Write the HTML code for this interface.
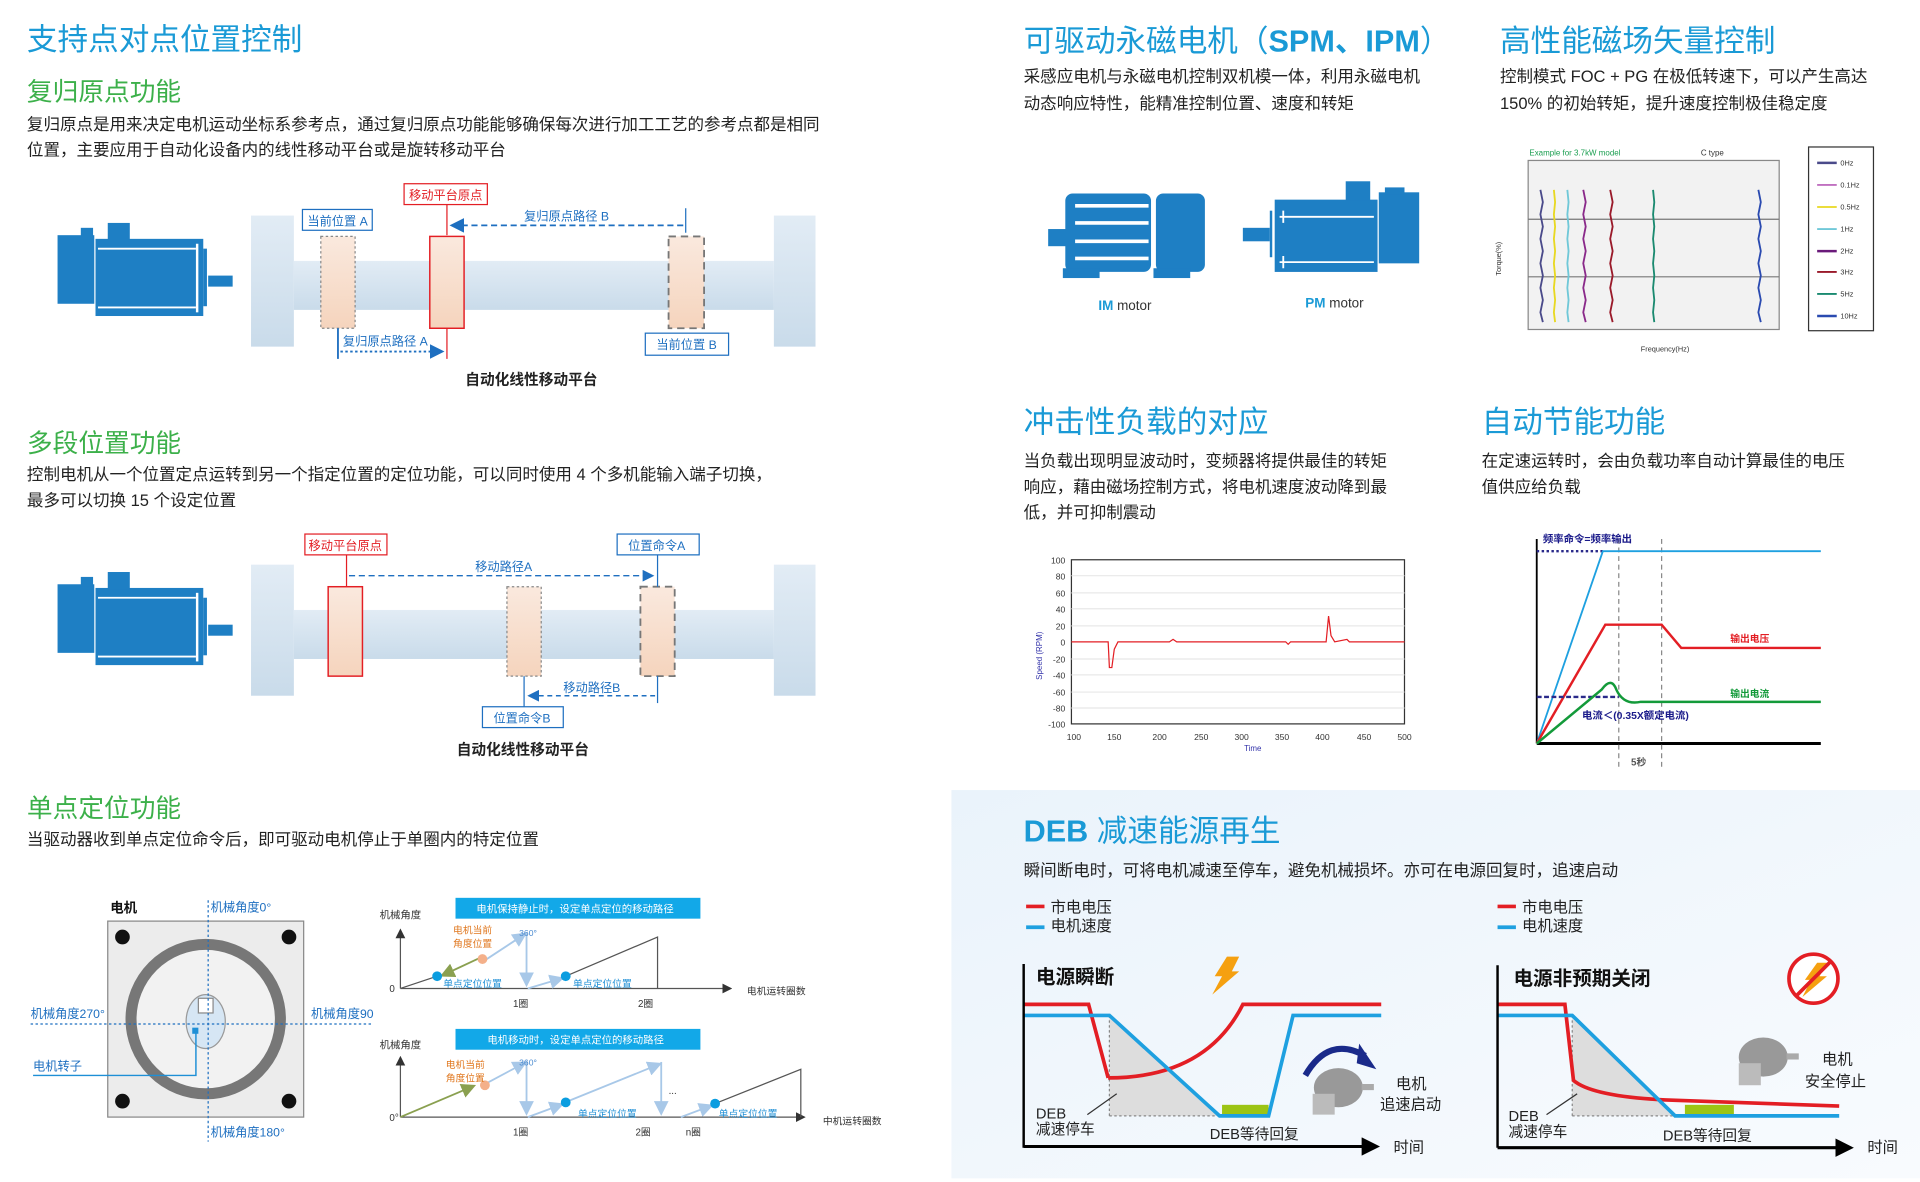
<!DOCTYPE html>
<html><head><meta charset="utf-8"><style>
html,body{margin:0;padding:0;background:#fff;width:1920px;height:1182px;overflow:hidden}
svg{display:block}
text{font-family:"Liberation Sans","Noto Sans CJK SC",sans-serif}
.t1{font-size:25px;fill:#1a9ad6}
.t2{font-size:21px;fill:#3cb04a}
.b{font-size:13.5px;fill:#222}
.s{font-size:10px}
.bl{fill:#1e6fc0}
</style></head><body>
<svg width="1920" height="1182" viewBox="0 0 1568 965" preserveAspectRatio="none" xmlns="http://www.w3.org/2000/svg">
<defs>
<linearGradient id="rail" x1="0" y1="0" x2="0" y2="1"><stop offset="0" stop-color="#e2ecf5"/><stop offset="1" stop-color="#c9dbea"/></linearGradient>
<linearGradient id="peach" x1="0" y1="0" x2="0" y2="1"><stop offset="0" stop-color="#fae9de"/><stop offset="1" stop-color="#f5d4bd"/></linearGradient>
<linearGradient id="deb" x1="0" y1="0" x2="1" y2="1"><stop offset="0" stop-color="#eaf3fb"/><stop offset="1" stop-color="#f8fbfe"/></linearGradient>
<marker id="ab" markerWidth="8" markerHeight="8" refX="6" refY="4" orient="auto"><path d="M0,0 L8,4 L0,8z" fill="#1e6fc0"/></marker>
<marker id="ak" markerWidth="8" markerHeight="8" refX="6" refY="4" orient="auto"><path d="M0,0 L8,4 L0,8z" fill="#333"/></marker>
<marker id="alb" markerWidth="8" markerHeight="8" refX="6" refY="4" orient="auto"><path d="M0,0 L8,4 L0,8z" fill="#a8c8e8"/></marker>
<marker id="ag" markerWidth="8" markerHeight="8" refX="6" refY="4" orient="auto"><path d="M0,0 L8,4 L0,8z" fill="#8aa050"/></marker>
<marker id="abk" markerWidth="6" markerHeight="6" refX="4" refY="3" orient="auto"><path d="M0,0 L6,3 L0,6z" fill="#000"/></marker>
<g id="motor">
<rect x="47" y="192" width="30" height="56" fill="#1e7fc4"/>
<rect x="78" y="195" width="88" height="63" fill="#1e7fc4"/>
<rect x="66" y="186" width="10" height="8" fill="#1e7fc4"/>
<rect x="88" y="182" width="18" height="14" fill="#1e7fc4"/>
<rect x="166" y="203" width="3" height="47" fill="#1e7fc4"/>
<rect x="170" y="225" width="20" height="9" fill="#1e7fc4"/>
<path d="M80,203 H160 M80,251 H160" stroke="#fff" stroke-width="1.5"/>
<rect x="160" y="199" width="2" height="56" fill="#fff"/>
</g>
<g id="rails">
<rect x="205" y="176" width="35" height="107" fill="url(#rail)"/>
<rect x="632" y="176" width="34" height="107" fill="url(#rail)"/>
<rect x="240" y="213" width="392" height="40" fill="url(#rail)"/>
</g>
</defs>

<!-- Section 1 -->
<text x="22" y="41" class="t1">支持点对点位置控制</text>
<text x="22" y="82" class="t2">复归原点功能</text>
<text x="22" y="106" class="b">复归原点是用来决定电机运动坐标系参考点，通过复归原点功能能够确保每次进行加工工艺的参考点都是相同</text>
<text x="22" y="127" class="b">位置，主要应用于自动化设备内的线性移动平台或是旋转移动平台</text>
<use href="#motor"/>
<use href="#rails"/>
<rect x="262" y="193" width="28" height="75" fill="url(#peach)" stroke="#888" stroke-dasharray="2,2"/>
<rect x="351" y="193" width="28" height="75" fill="url(#peach)" stroke="#e31e24" stroke-width="1.2"/>
<rect x="546" y="193" width="29" height="75" fill="url(#peach)" stroke="#777" stroke-dasharray="6,4" stroke-width="1.5"/>
<line x1="365" y1="167" x2="365" y2="192" stroke="#e31e24"/><line x1="365" y1="268" x2="365" y2="293" stroke="#e31e24"/>
<rect x="330" y="150" width="68" height="17" fill="#fff" stroke="#e31e24"/><text x="334" y="163" class="s" fill="#e31e24">移动平台原点</text>
<rect x="247" y="171" width="57" height="17" fill="#fff" stroke="#1e6fc0"/><text x="251" y="184" class="s bl">当前位置 A</text>
<line x1="560" y1="170" x2="560" y2="190" stroke="#1e6fc0"/>
<line x1="558" y1="184" x2="370" y2="184" stroke="#1e6fc0" stroke-dasharray="5,3" stroke-width="1.5" marker-end="url(#ab)"/>
<text x="428" y="180" class="s bl">复归原点路径 B</text>
<line x1="276" y1="268" x2="276" y2="293" stroke="#1e6fc0" stroke-width="1.5"/>
<line x1="278" y1="287" x2="360" y2="287" stroke="#1e6fc0" stroke-dasharray="2,2" stroke-width="1.5" marker-end="url(#ab)"/>
<text x="280" y="282" class="s bl">复归原点路径 A</text>
<rect x="527" y="272" width="68" height="18" fill="#fff" stroke="#1e6fc0"/><text x="536" y="285" class="s bl">当前位置 B</text>
<text x="380" y="314" font-size="12" font-weight="bold" fill="#222">自动化线性移动平台</text>

<!-- Section 2 -->
<text x="22" y="369" class="t2">多段位置功能</text>
<text x="22" y="392" class="b">控制电机从一个位置定点运转到另一个指定位置的定位功能，可以同时使用 4 个多机能输入端子切换，</text>
<text x="22" y="413" class="b">最多可以切换 15 个设定位置</text>
<g transform="translate(0,285)"><use href="#motor"/><use href="#rails"/></g>
<rect x="268" y="479" width="28" height="73" fill="url(#peach)" stroke="#e31e24" stroke-width="1.2"/>
<rect x="414" y="479" width="28" height="73" fill="url(#peach)" stroke="#888" stroke-dasharray="2,2"/>
<rect x="523" y="479" width="28" height="73" fill="url(#peach)" stroke="#777" stroke-dasharray="6,4" stroke-width="1.5"/>
<line x1="283" y1="453" x2="283" y2="479" stroke="#e31e24"/>
<rect x="249" y="436" width="67" height="17" fill="#fff" stroke="#e31e24"/><text x="252" y="449" class="s" fill="#e31e24">移动平台原点</text>
<rect x="504" y="436" width="67" height="17" fill="#fff" stroke="#1e6fc0"/><text x="513" y="449" class="s bl">位置命令A</text>
<line x1="537" y1="453" x2="537" y2="479" stroke="#1e6fc0"/>
<line x1="285" y1="470" x2="532" y2="470" stroke="#1e6fc0" stroke-dasharray="5,3" stroke-width="1.2" marker-end="url(#ab)"/>
<text x="388" y="466" class="s bl">移动路径A</text>
<line x1="537" y1="552" x2="537" y2="574" stroke="#1e6fc0"/><line x1="428" y1="552" x2="428" y2="577" stroke="#1e6fc0"/>
<line x1="535" y1="568" x2="433" y2="568" stroke="#1e6fc0" stroke-dasharray="4,3" stroke-width="1.2" marker-end="url(#ab)"/>
<text x="460" y="565" class="s bl">移动路径B</text>
<rect x="394" y="577" width="66" height="17" fill="#fff" stroke="#1e6fc0"/><text x="403" y="590" class="s bl">位置命令B</text>
<text x="373" y="616" font-size="12" font-weight="bold" fill="#222">自动化线性移动平台</text>

<!-- Section 3 -->
<text x="22" y="667" class="t2">单点定位功能</text>
<text x="22" y="690" class="b">当驱动器收到单点定位命令后，即可驱动电机停止于单圈内的特定位置</text>
<rect x="88" y="752" width="160" height="160" fill="#ececec" stroke="#888"/>
<circle cx="168" cy="832" r="61" fill="#f2f2f2" stroke="#777" stroke-width="9"/>
<ellipse cx="168" cy="834" rx="16" ry="22" fill="#d6e6f4" stroke="#999"/>
<rect x="162" y="815" width="12" height="12" fill="#fff" stroke="#888"/>
<rect x="157" y="839" width="5" height="5" fill="#1e8fd6"/>
<circle cx="100" cy="765" r="6" fill="#111"/><circle cx="236" cy="765" r="6" fill="#111"/>
<circle cx="100" cy="899" r="6" fill="#111"/><circle cx="236" cy="899" r="6" fill="#111"/>
<line x1="170" y1="735" x2="170" y2="932" stroke="#1e6fc0" stroke-dasharray="2,2"/>
<line x1="25" y1="836" x2="303" y2="836" stroke="#1e6fc0" stroke-dasharray="2,2"/>
<polyline points="27,878 160,878 160,842" fill="none" stroke="#1e8fd6" stroke-width="1.2"/>
<text x="90" y="745" font-size="11" font-weight="bold" fill="#111">电机</text>
<text x="172" y="744" class="s bl">机械角度0°</text>
<text x="25" y="831" class="s bl">机械角度270°</text>
<text x="254" y="831" class="s bl">机械角度90</text>
<text x="27" y="874" class="s bl">电机转子</text>
<text x="172" y="928" class="s bl">机械角度180°</text>

<!-- chart 1 -->
<rect x="372" y="733" width="200" height="17" fill="#12a8e8"/>
<text x="389" y="745" font-size="8.5" fill="#fff">电机保持静止时，设定单点定位的移动路径</text>
<text x="310" y="750" font-size="8.5" fill="#333">机械角度</text>
<line x1="327" y1="807" x2="327" y2="760" stroke="#555" marker-end="url(#ak)"/>
<line x1="327" y1="807" x2="596" y2="807" stroke="#555" marker-end="url(#ak)"/>
<text x="610" y="812" font-size="8" fill="#333">电机运转圈数</text>
<text x="318" y="810" font-size="8" fill="#333">0</text>
<line x1="327" y1="807" x2="357" y2="797" stroke="#555"/>
<line x1="396" y1="784" x2="428" y2="763" stroke="#a8c8e8" stroke-width="1.5" marker-end="url(#alb)"/>
<line x1="430" y1="762" x2="430" y2="803" stroke="#a8c8e8" stroke-width="1.5" marker-end="url(#alb)"/>
<line x1="431" y1="807" x2="458" y2="799" stroke="#a8c8e8" stroke-width="1.5" marker-end="url(#alb)"/>
<polyline points="462,797 537,765 537,807" fill="none" stroke="#555"/>
<line x1="392" y1="782" x2="362" y2="796" stroke="#8aa050" stroke-width="1.5" marker-end="url(#ag)"/>
<circle cx="357" cy="797" r="4" fill="#0a9de0"/><circle cx="394" cy="783" r="4" fill="#f4b08a"/><circle cx="462" cy="797" r="4" fill="#0a9de0"/>
<text x="370" y="762" font-size="8" fill="#e07820">电机当前</text><text x="370" y="773" font-size="8" fill="#e07820">角度位置</text>
<text x="424" y="764" font-size="7" fill="#4a8ad0">360°</text>
<text x="362" y="806" font-size="8" fill="#1e8fd6">单点定位位置</text><text x="468" y="806" font-size="8" fill="#1e8fd6">单点定位位置</text>
<text x="419" y="822" font-size="8" fill="#333">1圈</text><text x="521" y="822" font-size="8" fill="#333">2圈</text>
<!-- chart 2 -->
<rect x="372" y="840" width="200" height="17" fill="#12a8e8"/>
<text x="398" y="852" font-size="8.5" fill="#fff">电机移动时，设定单点定位的移动路径</text>
<text x="310" y="856" font-size="8.5" fill="#333">机械角度</text>
<line x1="327" y1="912" x2="327" y2="864" stroke="#555" marker-end="url(#ak)"/>
<line x1="327" y1="912" x2="656" y2="912" stroke="#555" marker-end="url(#ak)"/>
<text x="672" y="918" font-size="8" fill="#333">中机运转圈数</text>
<text x="318" y="915" font-size="8" fill="#333">0°</text>
<line x1="327" y1="912" x2="386" y2="887" stroke="#8aa050" stroke-width="1.5" marker-end="url(#ag)"/>
<line x1="398" y1="884" x2="428" y2="868" stroke="#a8c8e8" stroke-width="1.5" marker-end="url(#alb)"/>
<line x1="430" y1="866" x2="430" y2="908" stroke="#a8c8e8" stroke-width="1.5" marker-end="url(#alb)"/>
<line x1="431" y1="912" x2="458" y2="902" stroke="#a8c8e8" stroke-width="1.5" marker-end="url(#alb)"/>
<line x1="464" y1="899" x2="538" y2="869" stroke="#a8c8e8" stroke-width="1.5" marker-end="url(#alb)"/>
<line x1="540" y1="867" x2="540" y2="908" stroke="#a8c8e8" stroke-width="1.5" marker-end="url(#alb)"/>
<line x1="556" y1="912" x2="580" y2="903" stroke="#a8c8e8" stroke-width="1.5" marker-end="url(#alb)"/>
<polyline points="584,901 654,873 654,912" fill="none" stroke="#555"/>
<circle cx="396" cy="886" r="4" fill="#f4b08a"/><circle cx="462" cy="900" r="4" fill="#0a9de0"/><circle cx="584" cy="901" r="4" fill="#0a9de0"/>
<text x="364" y="872" font-size="8" fill="#e07820">电机当前</text><text x="364" y="883" font-size="8" fill="#e07820">角度位置</text>
<text x="424" y="870" font-size="7" fill="#4a8ad0">360°</text>
<text x="546" y="893" font-size="8" fill="#333">...</text>
<text x="472" y="912" font-size="8" fill="#1e8fd6">单点定位位置</text><text x="587" y="912" font-size="8" fill="#1e8fd6">单点定位位置</text>
<text x="419" y="927" font-size="8" fill="#333">1圈</text><text x="519" y="927" font-size="8" fill="#333">2圈</text><text x="560" y="927" font-size="8" fill="#333">n圈</text>

<!-- Right top -->
<text x="836" y="42" class="t1">可驱动永磁电机（<tspan font-weight="bold">SPM、IPM</tspan>）</text>
<text x="836" y="67" class="b">采感应电机与永磁电机控制双机模一体，利用永磁电机</text>
<text x="836" y="89" class="b">动态响应特性，能精准控制位置、速度和转矩</text>
<text x="1225" y="42" class="t1">高性能磁场矢量控制</text>
<text x="1225" y="67" class="b">控制模式 FOC + PG 在极低转速下，可以产生高达</text>
<text x="1225" y="89" class="b">150% 的初始转矩，提升速度控制极佳稳定度</text>
<!-- IM motor -->
<rect x="856" y="187" width="16" height="14" fill="#1e7fc4"/>
<rect x="870" y="158" width="70" height="64" rx="6" fill="#1e7fc4"/>
<path d="M878,168 H938 M878,182 H938 M878,197 H938 M878,211 H938" stroke="#fff" stroke-width="3"/>
<rect x="944" y="158" width="40" height="64" rx="6" fill="#1e7fc4"/>
<rect x="868" y="219" width="30" height="8" fill="#1e7fc4"/><rect x="942" y="219" width="30" height="8" fill="#1e7fc4"/>
<text x="897" y="253" font-size="11" fill="#333"><tspan fill="#1a9ad6" font-weight="bold">IM</tspan> motor</text>
<!-- PM motor -->
<rect x="1015" y="186" width="22" height="11" fill="#1e7fc4"/>
<rect x="1037" y="172" width="2" height="38" fill="#1e7fc4"/>
<rect x="1041" y="163" width="84" height="59" fill="#1e7fc4"/>
<rect x="1099" y="148" width="20" height="16" fill="#1e7fc4"/>
<rect x="1126" y="157" width="33" height="58" fill="#1e7fc4"/>
<rect x="1131" y="153" width="16" height="6" fill="#1e7fc4"/>
<path d="M1045,177 H1122 M1045,214 H1122 M1048,172 V182 M1048,209 V219" stroke="#fff" stroke-width="1.5" fill="none"/>
<text x="1066" y="251" font-size="11" fill="#333"><tspan fill="#1a9ad6" font-weight="bold">PM</tspan> motor</text>
<!-- torque chart -->
<text x="1249" y="127" font-size="6.5" fill="#1a9e50">Example for 3.7kW model</text>
<text x="1389" y="127" font-size="6.5" fill="#333">C type</text>
<rect x="1248" y="131" width="205" height="138" fill="#f2f2f2" stroke="#888"/>
<line x1="1248" y1="179" x2="1453" y2="179" stroke="#777"/><line x1="1248" y1="226" x2="1453" y2="226" stroke="#777"/>
<g stroke-width="1.5" fill="none">
<path d="M1258,155 l2,10 -2,10 2,10 -2,10 2,10 -2,10 2,10 -2,10 2,10 -2,10 2,8" stroke="#4a4a8a"/>
<path d="M1269,155 l1,10 -1,10 1,10 -1,10 1,10 -1,10 1,10 -1,10 1,10 -1,10 1,8" stroke="#e8d820"/>
<path d="M1280,155 l1,10 -1,10 1,10 -1,10 1,10 -1,10 1,10 -1,10 1,10 -1,10 1,8" stroke="#70c8d8"/>
<path d="M1293,155 l2,10 -2,10 2,10 -2,10 2,10 -2,10 2,10 -2,10 2,10 -2,10 2,8" stroke="#8a2a8a"/>
<path d="M1315,155 l2,10 -2,10 2,10 -2,10 2,10 -2,10 2,10 -2,10 2,10 -2,10 2,8" stroke="#9a1a2a"/>
<path d="M1350,155 l1,10 -1,10 1,10 -1,10 1,10 -1,10 1,10 -1,10 1,10 -1,10 1,8" stroke="#1a8a70"/>
<path d="M1436,155 l2,10 -2,10 2,10 -2,10 2,10 -2,10 2,10 -2,10 2,10 -2,10 2,8" stroke="#2a4ab0"/>
</g>
<text x="1226" y="225" font-size="6" fill="#333" transform="rotate(-90 1226 225)">Torque(%)</text>
<text x="1340" y="287" font-size="6" fill="#333">Frequency(Hz)</text>
<rect x="1477" y="120" width="53" height="150" fill="#fff" stroke="#333"/>
<g font-size="6" fill="#333">
<line x1="1484" y1="133" x2="1500" y2="133" stroke="#4a4a8a" stroke-width="2"/><text x="1503" y="135">0Hz</text>
<line x1="1484" y1="151" x2="1500" y2="151" stroke="#c070c0" stroke-width="1.5"/><text x="1503" y="153">0.1Hz</text>
<line x1="1484" y1="169" x2="1500" y2="169" stroke="#e8d820" stroke-width="1.5"/><text x="1503" y="171">0.5Hz</text>
<line x1="1484" y1="187" x2="1500" y2="187" stroke="#70c8d8" stroke-width="1.5"/><text x="1503" y="189">1Hz</text>
<line x1="1484" y1="205" x2="1500" y2="205" stroke="#6a1a7a" stroke-width="2"/><text x="1503" y="207">2Hz</text>
<line x1="1484" y1="222" x2="1500" y2="222" stroke="#9a1a2a" stroke-width="1.5"/><text x="1503" y="224">3Hz</text>
<line x1="1484" y1="240" x2="1500" y2="240" stroke="#1a8a70" stroke-width="1.5"/><text x="1503" y="242">5Hz</text>
<line x1="1484" y1="258" x2="1500" y2="258" stroke="#2a4ab0" stroke-width="2"/><text x="1503" y="260">10Hz</text>
</g>

<!-- Middle right -->
<text x="836" y="353" class="t1">冲击性负载的对应</text>
<text x="836" y="381" class="b">当负载出现明显波动时，变频器将提供最佳的转矩</text>
<text x="836" y="402" class="b">响应，藉由磁场控制方式，将电机速度波动降到最</text>
<text x="836" y="423" class="b">低，并可抑制震动</text>
<text x="1210" y="353" class="t1">自动节能功能</text>
<text x="1210" y="381" class="b">在定速运转时，会由负载功率自动计算最佳的电压</text>
<text x="1210" y="402" class="b">值供应给负载</text>
<!-- speed chart -->
<rect x="875" y="457" width="272" height="134" fill="#fff" stroke="#333"/>
<g stroke="#e8e8e8"><line x1="875" y1="470" x2="1147" y2="470"/><line x1="875" y1="484" x2="1147" y2="484"/><line x1="875" y1="497" x2="1147" y2="497"/><line x1="875" y1="511" x2="1147" y2="511"/><line x1="875" y1="538" x2="1147" y2="538"/><line x1="875" y1="551" x2="1147" y2="551"/><line x1="875" y1="565" x2="1147" y2="565"/><line x1="875" y1="578" x2="1147" y2="578"/></g>
<polyline points="875,524 905,524 906,545 908,545 910,530 913,524 955,524 958,522 961,524 1050,524 1052,526 1054,524 1083,524 1085,503 1087,519 1090,524 1100,522 1102,524 1147,524" fill="none" stroke="#e31e24"/>
<g font-size="7" fill="#333" text-anchor="end"><text x="870" y="460">100</text><text x="870" y="473">80</text><text x="870" y="487">60</text><text x="870" y="500">40</text><text x="870" y="514">20</text><text x="870" y="527">0</text><text x="870" y="541">-20</text><text x="870" y="554">-40</text><text x="870" y="568">-60</text><text x="870" y="581">-80</text><text x="870" y="594">-100</text></g>
<g font-size="7" fill="#333" text-anchor="middle"><text x="877" y="604">100</text><text x="910" y="604">150</text><text x="947" y="604">200</text><text x="981" y="604">250</text><text x="1014" y="604">300</text><text x="1047" y="604">350</text><text x="1080" y="604">400</text><text x="1114" y="604">450</text><text x="1147" y="604">500</text></g>
<text x="1016" y="613" font-size="6.5" fill="#3333aa">Time</text>
<text x="851" y="555" font-size="6.5" fill="#3333aa" transform="rotate(-90 851 555)">Speed (RPM)</text>
<!-- energy chart -->
<line x1="1255" y1="440" x2="1255" y2="607" stroke="#000" stroke-width="1.5"/>
<line x1="1255" y1="607" x2="1487" y2="607" stroke="#000" stroke-width="2.5"/>
<line x1="1322" y1="440" x2="1322" y2="627" stroke="#888" stroke-dasharray="4,3"/>
<line x1="1357" y1="440" x2="1357" y2="627" stroke="#888" stroke-dasharray="4,3"/>
<text x="1332" y="625" font-size="8" font-weight="bold" fill="#555">5秒</text>
<line x1="1255" y1="450" x2="1309" y2="450" stroke="#2a2a8a" stroke-width="2" stroke-dasharray="2,2"/>
<polyline points="1255,607 1309,450 1487,450" fill="none" stroke="#1ea0e0" stroke-width="1.5"/>
<text x="1260" y="443" font-size="8.5" font-weight="bold" fill="#1a1a8a">频率命令=频率输出</text>
<polyline points="1255,607 1311,510 1357,510 1373,529 1487,529" fill="none" stroke="#e31e24" stroke-width="2"/>
<text x="1413" y="524" font-size="8" font-weight="bold" fill="#e31e24">输出电压</text>
<line x1="1255" y1="569" x2="1322" y2="569" stroke="#2a2a8a" stroke-width="2" stroke-dasharray="4,2"/>
<path d="M1255,607 L1308,563 Q1316,552 1320,563 Q1326,576 1340,573 L1487,573" fill="none" stroke="#139a3a" stroke-width="2"/>
<text x="1413" y="569" font-size="8" font-weight="bold" fill="#139a3a">输出电流</text>
<text x="1292" y="587" font-size="8.5" font-weight="bold" fill="#1a1a8a">电流＜(0.35X额定电流)</text>

<!-- DEB panel -->
<rect x="777" y="645" width="791" height="317" fill="url(#deb)"/>
<text x="836" y="687" class="t1"><tspan font-weight="bold">DEB</tspan> 减速能源再生</text>
<text x="836" y="715" class="b">瞬间断电时，可将电机减速至停车，避免机械损坏。亦可在电源回复时，追速启动</text>
<g font-size="12.5" fill="#222">
<line x1="838" y1="740" x2="853" y2="740" stroke="#e31e24" stroke-width="3"/><text x="858" y="745">市电电压</text>
<line x1="838" y1="757" x2="853" y2="757" stroke="#1ea0e0" stroke-width="3"/><text x="858" y="760">电机速度</text>
<line x1="1223" y1="740" x2="1238" y2="740" stroke="#e31e24" stroke-width="3"/><text x="1243" y="745">市电电压</text>
<line x1="1223" y1="757" x2="1238" y2="757" stroke="#1ea0e0" stroke-width="3"/><text x="1243" y="760">电机速度</text>
</g>
<!-- left chart -->
<polygon points="906,829 906,911 996,911" fill="#ddd"/>
<line x1="906" y1="829" x2="906" y2="911" stroke="#888" stroke-dasharray="2,2"/>
<line x1="906" y1="911" x2="996" y2="911" stroke="#888" stroke-dasharray="2,2"/>
<rect x="998" y="902" width="38" height="9" fill="#9cc414"/>
<polyline points="836,820 889,820 905,880" fill="none" stroke="#e31e24" stroke-width="3"/>
<path d="M905,880 Q985,880 1015,820 L1128,820" fill="none" stroke="#e31e24" stroke-width="3"/>
<polyline points="836,829 906,829 996,911 1036,911 1056,829 1128,829" fill="none" stroke="#1ea0e0" stroke-width="3"/>
<line x1="836" y1="787" x2="836" y2="937" stroke="#000" stroke-width="2"/>
<line x1="836" y1="936" x2="1122" y2="936" stroke="#000" stroke-width="2.5" marker-end="url(#abk)"/>
<text x="1138" y="941" font-size="12.5" fill="#222">时间</text>
<text x="846" y="803" font-size="16" font-weight="bold" fill="#111">电源瞬断</text>
<polygon points="1002,781 1012,781 1006,793 1012,793 990,812 998,797 992,797" fill="#f5a010"/>
<line x1="888" y1="910" x2="912" y2="893" stroke="#333"/>
<text x="846" y="913" font-size="12" fill="#222">DEB</text><text x="846" y="926" font-size="12" fill="#222">减速停车</text>
<text x="988" y="930" font-size="12" fill="#222">DEB等待回复</text>
<path d="M1066,878 Q1085,845 1115,862" fill="none" stroke="#1a2a8a" stroke-width="5"/>
<polygon points="1110,852 1124,873 1108,868" fill="#1a2a8a"/>
<ellipse cx="1093" cy="888" rx="20" ry="16" fill="#999"/><rect x="1072" y="893" width="18" height="17" fill="#bbb"/><rect x="1112" y="885" width="10" height="5" fill="#aaa"/>
<text x="1140" y="889" font-size="12.5" fill="#222">电机</text><text x="1127" y="906" font-size="12.5" fill="#222">追速启动</text>
<!-- right chart -->
<polygon points="1284,829 1284,911 1368,911" fill="#ddd"/>
<line x1="1284" y1="829" x2="1284" y2="911" stroke="#888" stroke-dasharray="2,2"/>
<line x1="1284" y1="911" x2="1368" y2="911" stroke="#888" stroke-dasharray="2,2"/>
<rect x="1376" y="902" width="40" height="9" fill="#9cc414"/>
<path d="M1223,820 L1278,820 L1285,882 Q1300,895 1360,898 L1502,903" fill="none" stroke="#e31e24" stroke-width="3"/>
<polyline points="1223,829 1284,829 1368,911 1502,911" fill="none" stroke="#1ea0e0" stroke-width="3"/>
<line x1="1223" y1="788" x2="1223" y2="937" stroke="#000" stroke-width="2"/>
<line x1="1223" y1="937" x2="1509" y2="937" stroke="#000" stroke-width="2.5" marker-end="url(#abk)"/>
<text x="1525" y="941" font-size="12.5" fill="#222">时间</text>
<text x="1236" y="804" font-size="16" font-weight="bold" fill="#111">电源非预期关闭</text>
<circle cx="1481" cy="799" r="20" fill="#fff" stroke="#e31e24" stroke-width="3"/>
<polygon points="1484,786 1492,786 1486,797 1492,797 1472,814 1479,800 1474,800" fill="#f5a010"/>
<line x1="1467" y1="813" x2="1495" y2="785" stroke="#e31e24" stroke-width="3"/>
<line x1="1263" y1="910" x2="1288" y2="893" stroke="#333"/>
<text x="1232" y="915" font-size="12" fill="#222">DEB</text><text x="1232" y="928" font-size="12" fill="#222">减速停车</text>
<text x="1358" y="931" font-size="12" fill="#222">DEB等待回复</text>
<ellipse cx="1440" cy="863" rx="20" ry="16" fill="#999"/><rect x="1420" y="868" width="18" height="18" fill="#bbb"/><rect x="1459" y="860" width="10" height="5" fill="#aaa"/>
<text x="1488" y="869" font-size="12.5" fill="#222">电机</text><text x="1474" y="887" font-size="12.5" fill="#222">安全停止</text>
</svg>
</body></html>
